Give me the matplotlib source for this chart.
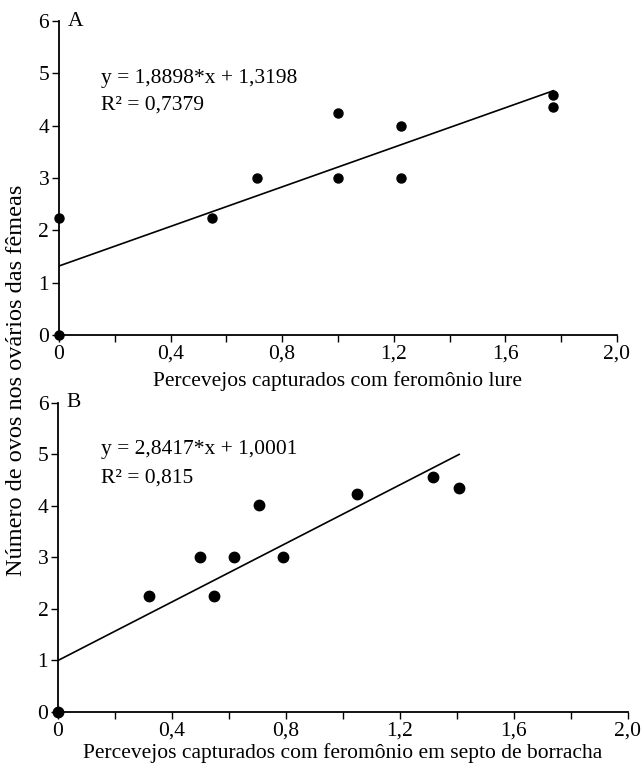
import matplotlib
matplotlib.use('Agg')
import matplotlib.pyplot as plt
from matplotlib.ticker import MultipleLocator, FuncFormatter

plt.rcParams['font.family'] = ['Liberation Serif', 'DejaVu Serif']
plt.rcParams['font.size'] = 15.5

# panel A - feromonio lure
xa = [0, 0, 0.547, 0.708, 1.0, 1.0, 1.227, 1.227, 1.772, 1.772]
ya = [0, 2.23, 2.23, 3.0, 4.24, 3.0, 4.0, 3.0, 4.58, 4.35]
slope_a, icpt_a = 1.8898, 1.3198
eq_a = ['y = 1,8898*x + 1,3198', 'R² = 0,7379']

# panel B - septo de borracha
xb = [0, 0.319, 0.499, 0.547, 0.619, 0.707, 0.788, 1.049, 1.317, 1.408]
yb = [0, 2.26, 3.01, 2.26, 3.01, 4.01, 3.01, 4.23, 4.57, 4.35]
slope_b, icpt_b = 2.8417, 1.0001
eq_b = ['y = 2,8417*x + 1,0001', 'R² = 0,815']

xlabels = ['Percevejos capturados com feromônio lure',
           'Percevejos capturados com feromônio em septo de borracha']
ylabel = 'Número de ovos nos ovários das fêmeas'


def fmt(v, pos):
    if abs(v) < 1e-9:
        return '0'
    return '{:.1f}'.format(v).replace('.', ',')


def draw_panel(ax, x, y, slope, icpt, eq, eq_y, letter, xlabel, ms, lpad):
    ax.plot(x, y, 'o', color='black', markersize=ms, clip_on=False, zorder=5)
    xmax = max(x)
    ax.plot([0, xmax], [icpt, slope * xmax + icpt], color='black', linewidth=1.2)

    ax.set_xlim(0, 2.0)
    ax.set_ylim(0, 6)
    ax.spines['top'].set_visible(False)
    ax.spines['right'].set_visible(False)
    ax.spines['left'].set_linewidth(1.3)
    ax.spines['bottom'].set_linewidth(1.3)
    ax.xaxis.set_major_locator(MultipleLocator(0.4))
    ax.xaxis.set_minor_locator(MultipleLocator(0.2))
    ax.xaxis.set_major_formatter(FuncFormatter(fmt))
    ax.yaxis.set_major_locator(MultipleLocator(1))
    ax.tick_params(which='both', direction='out', length=5, width=1.0, pad=2)

    ax.text(0.15, eq_y[0], eq[0], va='center')
    ax.text(0.15, eq_y[1], eq[1], va='center')
    ax.text(0.03, 6.0, letter, va='center')
    ax.set_xlabel(xlabel, labelpad=lpad)


fig = plt.figure(figsize=(6.41, 7.65), dpi=100)
ax1 = fig.add_axes([0.092, 0.562, 0.8705, 0.4105])
ax2 = fig.add_axes([0.0905, 0.0693, 0.889, 0.404])

draw_panel(ax1, xa, ya, slope_a, icpt_a, eq_a, (4.9, 4.4), 'A', xlabels[0], 6.5, 5)
draw_panel(ax2, xb, yb, slope_b, icpt_b, eq_b, (5.1, 4.55), 'B', xlabels[1], 7.5, 2)

fig.text(0.026, 0.503, ylabel, rotation=90, fontsize=17.5, ha='center', va='center')

plt.savefig('out.png', dpi=100)
plt.close()
